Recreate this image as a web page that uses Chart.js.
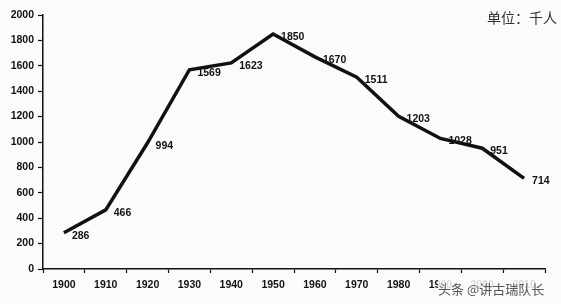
<!DOCTYPE html>
<html>
<head>
<meta charset="utf-8">
<script src="https://cdn.jsdelivr.net/npm/chart.js@4"></script>
<style>
  html, body { margin: 0; padding: 0; background: #fbfbfb; }
  #wrap { position: relative; width: 561px; height: 304px; }
</style>
</head>
<body>
<div id="wrap"><canvas id="popChart" width="561" height="304"></canvas></div>
<script>
var years = ["1900", "1910", "1920", "1930", "1940", "1950", "1960", "1970", "1980", "1990", "2000", "2010"];
var population = [286, 466, 994, 1569, 1623, 1850, 1670, 1511, 1203, 1028, 951, 714];
var unitText = "单位：千人";
var watermark = "头条 @讲古瑞队长";

var labelFont = 'bold 10.5px "Liberation Sans", Arial, sans-serif';

// value labels to the right of each point + unit + watermark
var extras = {
    id: 'extras',
    afterDatasetsDraw: function(chart) {
        var ctx = chart.ctx;
        var pts = chart.getDatasetMeta(0).data;
        ctx.save();
        ctx.font = labelFont;
        ctx.fillStyle = '#111';
        ctx.textAlign = 'left';
        ctx.textBaseline = 'middle';
        pts.forEach(function(p, i) {
            ctx.fillText(String(population[i]), p.x + 8, p.y + 3);
        });
        ctx.restore();
    },
    afterDraw: function(chart) {
        var ctx = chart.ctx;
        ctx.save();
        ctx.font = '14px "Noto Sans CJK SC", sans-serif';
        ctx.fillStyle = '#333';
        ctx.textAlign = 'right';
        ctx.textBaseline = 'middle';
        ctx.fillText(unitText, 557, 18);
        // watermark over the last axis labels
        ctx.fillStyle = 'rgba(251,251,251,0.85)';
        ctx.fillRect(438, 278, 120, 22);
        ctx.font = '13px "Noto Sans CJK SC", sans-serif';
        ctx.fillStyle = '#555';
        ctx.textAlign = 'left';
        ctx.fillText(watermark, 438, 289);
        ctx.restore();
    }
};

var tickFont = { family: '"Liberation Sans", Arial, sans-serif', size: 10.5, weight: 'bold' };

var ctxP = document.getElementById('popChart').getContext('2d');
var popChart = new Chart(ctxP, {
    type: 'line',
    data: {
        labels: years,
        datasets: [{
            data: population,
            borderColor: '#111',
            borderWidth: 3.5,
            pointRadius: 0,
            tension: 0,
            borderJoinStyle: 'miter'
        }]
    },
    options: {
        responsive: false,
        animation: false,
        layout: { padding: { top: 15, right: 16, left: 0, bottom: 0 } },
        plugins: { legend: { display: false }, tooltip: { enabled: false } },
        scales: {
            x: {
                offset: true,
                grid: { offset: true, drawOnChartArea: false, color: '#111', tickLength: 4, tickWidth: 1.2 },
                border: { color: '#111', width: 1.5 },
                ticks: { color: '#111', font: tickFont, padding: 6, maxRotation: 0, autoSkip: false },
                afterFit: function(axis) { axis.height = 35; }
            },
            y: {
                min: 0, max: 2000,
                grid: { drawOnChartArea: false, color: '#111', tickLength: 5, tickWidth: 1.2 },
                border: { color: '#111', width: 1.5 },
                ticks: { stepSize: 200, color: '#111', font: tickFont, padding: 4,
                    callback: function(v) { return String(v); } },
                afterFit: function(axis) { axis.width = 43; }
            }
        }
    },
    plugins: [extras]
});
</script>
</body>
</html>
